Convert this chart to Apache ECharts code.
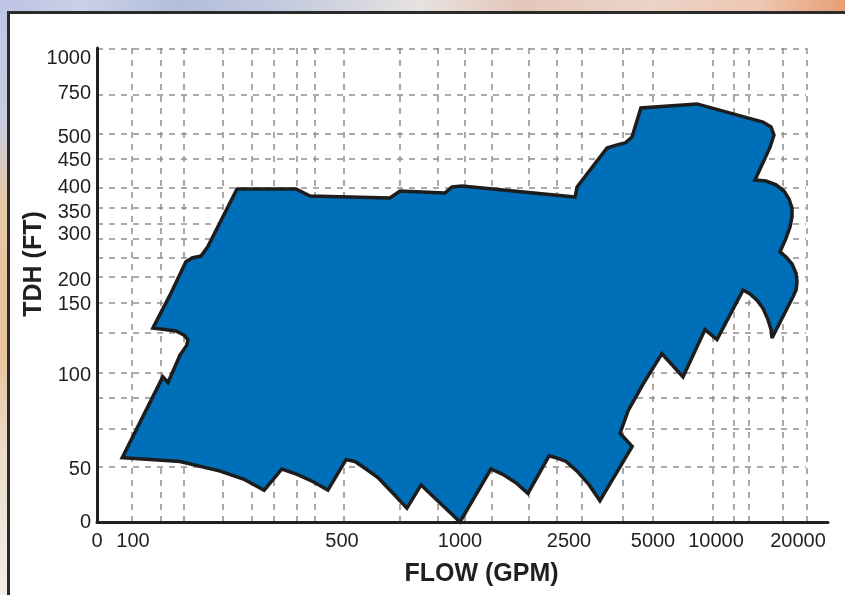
<!DOCTYPE html>
<html><head><meta charset="utf-8">
<script src="https://cdn.jsdelivr.net/npm/echarts@6/dist/echarts.min.js"></script>
<style>
html,body{margin:0;padding:0;width:845px;height:595px;overflow:hidden;}
body{background:linear-gradient(90deg,#bcc3e6 0px,#c9d1e6 80px,#b3bedb 180px,#c7cddf 300px,#e6e2df 420px,#e4c7bb 520px,#ecd3c8 650px,#eec6b2 760px,#e79e74 845px);}
#bgLeft{position:absolute;left:0;top:0;width:10px;height:595px;background:linear-gradient(180deg,#bfc6e6 0,#c8cbe0 120px,#e6c8a6 200px,#e8c39c 350px,#ecdcca 450px,#f3eee8 595px);}
#panel{position:absolute;left:7px;top:11px;width:900px;height:700px;background:#fff;border:3px solid #2b2b2b;box-sizing:border-box;}
#chart{position:absolute;left:0;top:0;width:845px;height:595px;}
</style></head><body>
<div id="bgLeft"></div>
<div id="panel"></div>
<div id="chart"></div>
<script>
// ---- data ----
const xTickLabels = [0, 100, 500, 1000, 2500, 5000, 10000, 20000];          // FLOW (GPM)
const yTickLabels = [0, 50, 100, 150, 200, 300, 350, 400, 450, 500, 750, 1000]; // TDH (FT)
// coverage envelope outline, clockwise from the left tip
const flowGPM = [70, 157, 167, 190, 203, 205, 198, 182, 161, 138, 171, 201, 213, 230, 243, 299,
  412, 439, 703, 746, 936, 966, 1028, 2680, 2740, 3630, 3930, 4170, 4375, 4640, 8490,
  15730, 16710, 17070, 16590, 14760, 16100, 17320, 18290, 18900, 19270, 19270, 19020, 18540, 17800,
  18540, 19270, 19760, 19880, 19760, 19390, 16830, 16710, 16340, 15730, 15000, 14150, 13290,
  10120, 9130, 7380, 5710, 4700, 4260, 4020, 4380, 3420, 3100, 2740, 2460, 2320, 2225,
  1935, 1770, 1590, 1425, 1000, 835, 775, 712, 652, 602, 555, 517, 473, 445, 414, 385,
  351, 314, 267, 190, 133];
const headFT = [56, 99, 96, 114, 121, 125, 128, 131, 132, 133, 169, 239, 248, 252, 272, 396,
  396, 382, 378, 392, 388, 400, 402, 380, 400, 476, 483, 487, 500, 665, 688,
  585, 557, 511, 478, 413, 411, 404, 392, 376, 358, 339, 316, 291, 261,
  250, 235, 215, 196, 179, 165, 126, 132, 139, 147, 158, 171, 179,
  125, 132, 99, 115, 95, 81, 69, 62, 20, 35, 48, 54, 56, 57,
  27, 37, 45, 50, 0, 35, 13, 28, 42, 50, 54, 55, 30, 38, 45, 50,
  30, 40, 48, 54, 55];

// ---- the chart's non-uniform scale: where each labelled value sits along its axis ----
const xScalePos = [0, 36, 245, 363, 472, 556, 619, 701];
const yScalePos = [0, 53, 147, 218, 242, 288, 310, 335, 362, 385, 429, 464];
function toAxis(v, vals, pos) {
  const n = vals.length;
  let i = 0;
  while (i < n - 2 && v > vals[i + 1]) i++;
  return pos[i] + (v - vals[i]) * (pos[i + 1] - pos[i]) / (vals[i + 1] - vals[i]);
}
const pts = flowGPM.map((g, i) => [toAxis(g, xTickLabels, xScalePos), toAxis(headFT[i], yTickLabels, yScalePos)]);

// decorative dashed grid positions (axis units)
const gridX = [35, 63.5, 87, 126, 154.5, 177, 200, 217.5, 246.5, 303, 340.5, 368, 394.7, 432, 460, 485, 526, 556, 616, 636.5, 652, 686, 709.5];
const gridY = [55, 93, 124, 149, 189, 219, 245, 264, 283, 298, 314, 334, 363, 388, 427, 473];

const xLabelMap = {}; xScalePos.forEach((p, i) => xLabelMap[p] = String(xTickLabels[i]));
const yLabelMap = {}; yScalePos.forEach((p, i) => yLabelMap[p] = String(yTickLabels[i]));

const FONT = "'Liberation Sans', Arial, Helvetica, sans-serif";
const INK = '#231f20';
const dash = {type: [6, 6], color: '#8e8e8e', width: 1.5};

const chart = echarts.init(document.getElementById('chart'), null, {renderer: 'canvas'});
chart.setOption({
  backgroundColor: 'transparent',
  animation: false,
  grid: [
    {left: 97, top: 48, width: 731, height: 474, outerBoundsMode: 'none'},
    {left: 97, top: 48, width: 709, height: 474, outerBoundsMode: 'none'}
  ],
  xAxis: [{
    type: 'value', min: 0, max: 731, gridIndex: 0,
    name: 'FLOW (GPM)', nameLocation: 'middle', nameGap: 40, nameMoveOverlap: false,
    nameTextStyle: {fontFamily: FONT, fontWeight: 'bold', fontSize: 25, color: INK, padding: [0, 0, 0, 38]},
    axisLine: {show: true, onZero: false, lineStyle: {color: INK, width: 3}},
    axisTick: {show: false, customValues: gridX},
    splitLine: {show: true, lineStyle: dash},
    axisLabel: {customValues: xScalePos, margin: 9, fontFamily: FONT, fontSize: 20, color: INK,
      formatter: v => xLabelMap[v] !== undefined ? xLabelMap[v] : ''}
  }, {
    type: 'value', min: 0, max: 709, gridIndex: 1, show: false
  }],
  yAxis: [{
    type: 'value', min: 0, max: 474, gridIndex: 0,
    name: 'TDH (FT)', nameLocation: 'middle', nameGap: 50, nameMoveOverlap: false,
    nameTextStyle: {fontFamily: FONT, fontWeight: 'bold', fontSize: 25, color: INK, padding: [0, 0, 0, 42]},
    axisLine: {show: true, onZero: false, lineStyle: {color: INK, width: 3}},
    axisTick: {show: false},
    splitLine: {show: false},
    axisLabel: {customValues: yScalePos, margin: 6, fontFamily: FONT, fontSize: 20, color: INK,
      formatter: v => yLabelMap[v] !== undefined ? yLabelMap[v] : ''}
  }, {
    type: 'value', min: 0, max: 474, gridIndex: 1,
    axisLine: {show: false},
    axisLabel: {show: false},
    axisTick: {show: false, customValues: gridY},
    splitLine: {show: true, lineStyle: dash}
  }],
  series: [{
    type: 'custom',
    xAxisIndex: 0, yAxisIndex: 0,
    data: pts,
    encode: {x: 0, y: 1},
    clip: false,
    z: 3,
    renderItem: function (params, api) {
      if (params.dataIndex !== 0) return null;
      const poly = pts.map(p => api.coord(p));
      return {
        type: 'polygon',
        shape: {points: poly},
        style: {fill: '#006fb9', stroke: '#1d1d1d', lineWidth: 3.5, lineJoin: 'miter', miterLimit: 3}
      };
    }
  }]
});
</script>
</body></html>
